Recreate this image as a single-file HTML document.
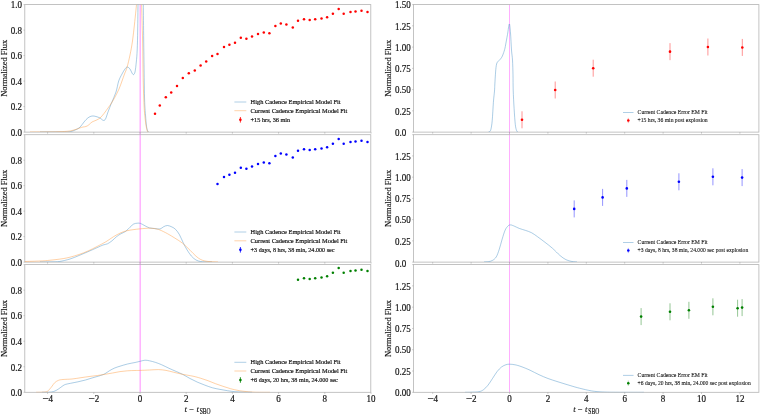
<!DOCTYPE html>
<html><head><meta charset="utf-8"><title>Normalized Flux</title>
<style>html,body{margin:0;padding:0;background:#fff}body{width:760px;height:414px;overflow:hidden}</style></head>
<body>
<svg width="760" height="414" viewBox="0 0 760 414" style="display:block;will-change:transform;opacity:0.999;filter:blur(0.35px);font-family:'Liberation Serif',serif">
<rect width="760" height="414" fill="#fff"/>
<clipPath id="cl0"><rect x="24.80" y="4.60" width="346.00" height="127.50"/></clipPath>
<clipPath id="cr0"><rect x="413.40" y="4.60" width="345.50" height="127.50"/></clipPath>
<clipPath id="cl1"><rect x="24.80" y="134.70" width="346.00" height="127.40"/></clipPath>
<clipPath id="cr1"><rect x="413.40" y="134.70" width="345.50" height="127.40"/></clipPath>
<clipPath id="cl2"><rect x="24.80" y="264.60" width="346.00" height="127.70"/></clipPath>
<clipPath id="cr2"><rect x="413.40" y="264.60" width="345.50" height="127.70"/></clipPath>
<line x1="140.15" x2="140.15" y1="4.5" y2="392.3" stroke="#ff8cff" stroke-width="1.0"/>
<line x1="509.5" x2="509.5" y1="4.5" y2="392.3" stroke="#ff8cff" stroke-width="0.7"/>
<circle cx="155.00" cy="113.80" r="1.25" fill="#ff0000"/>
<circle cx="159.80" cy="105.40" r="1.25" fill="#ff0000"/>
<circle cx="165.80" cy="97.20" r="1.25" fill="#ff0000"/>
<circle cx="171.20" cy="92.60" r="1.25" fill="#ff0000"/>
<circle cx="177.00" cy="86.00" r="1.25" fill="#ff0000"/>
<circle cx="182.80" cy="78.00" r="1.25" fill="#ff0000"/>
<circle cx="188.80" cy="73.20" r="1.25" fill="#ff0000"/>
<circle cx="194.80" cy="70.40" r="1.25" fill="#ff0000"/>
<circle cx="200.60" cy="65.60" r="1.25" fill="#ff0000"/>
<circle cx="206.20" cy="61.60" r="1.25" fill="#ff0000"/>
<circle cx="212.10" cy="56.00" r="1.25" fill="#ff0000"/>
<circle cx="217.50" cy="54.00" r="1.25" fill="#ff0000"/>
<circle cx="224.00" cy="47.00" r="1.25" fill="#ff0000"/>
<circle cx="229.40" cy="44.80" r="1.25" fill="#ff0000"/>
<circle cx="235.00" cy="42.80" r="1.25" fill="#ff0000"/>
<circle cx="240.80" cy="37.80" r="1.25" fill="#ff0000"/>
<circle cx="246.40" cy="38.80" r="1.25" fill="#ff0000"/>
<circle cx="252.00" cy="36.60" r="1.25" fill="#ff0000"/>
<circle cx="258.00" cy="34.00" r="1.25" fill="#ff0000"/>
<circle cx="263.80" cy="32.40" r="1.25" fill="#ff0000"/>
<circle cx="269.40" cy="33.20" r="1.25" fill="#ff0000"/>
<circle cx="275.40" cy="26.00" r="1.25" fill="#ff0000"/>
<circle cx="280.80" cy="23.60" r="1.25" fill="#ff0000"/>
<circle cx="286.40" cy="24.60" r="1.25" fill="#ff0000"/>
<circle cx="292.80" cy="27.40" r="1.25" fill="#ff0000"/>
<circle cx="298.00" cy="20.80" r="1.25" fill="#ff0000"/>
<circle cx="304.00" cy="19.20" r="1.25" fill="#ff0000"/>
<circle cx="309.70" cy="20.00" r="1.25" fill="#ff0000"/>
<circle cx="315.20" cy="19.30" r="1.25" fill="#ff0000"/>
<circle cx="321.50" cy="18.40" r="1.25" fill="#ff0000"/>
<circle cx="327.10" cy="17.20" r="1.25" fill="#ff0000"/>
<circle cx="332.90" cy="13.70" r="1.25" fill="#ff0000"/>
<circle cx="338.70" cy="9.10" r="1.25" fill="#ff0000"/>
<circle cx="343.70" cy="13.80" r="1.25" fill="#ff0000"/>
<circle cx="350.50" cy="12.10" r="1.25" fill="#ff0000"/>
<circle cx="355.50" cy="11.50" r="1.25" fill="#ff0000"/>
<circle cx="361.50" cy="10.70" r="1.25" fill="#ff0000"/>
<circle cx="367.50" cy="11.90" r="1.25" fill="#ff0000"/>
<circle cx="217.50" cy="184.00" r="1.25" fill="#0000ff"/>
<circle cx="224.00" cy="177.00" r="1.25" fill="#0000ff"/>
<circle cx="229.40" cy="174.80" r="1.25" fill="#0000ff"/>
<circle cx="235.00" cy="172.80" r="1.25" fill="#0000ff"/>
<circle cx="240.80" cy="167.80" r="1.25" fill="#0000ff"/>
<circle cx="246.40" cy="168.80" r="1.25" fill="#0000ff"/>
<circle cx="252.00" cy="166.60" r="1.25" fill="#0000ff"/>
<circle cx="258.00" cy="164.00" r="1.25" fill="#0000ff"/>
<circle cx="263.80" cy="162.40" r="1.25" fill="#0000ff"/>
<circle cx="269.40" cy="163.20" r="1.25" fill="#0000ff"/>
<circle cx="275.40" cy="156.00" r="1.25" fill="#0000ff"/>
<circle cx="280.80" cy="153.60" r="1.25" fill="#0000ff"/>
<circle cx="286.40" cy="154.60" r="1.25" fill="#0000ff"/>
<circle cx="292.80" cy="157.40" r="1.25" fill="#0000ff"/>
<circle cx="298.00" cy="150.80" r="1.25" fill="#0000ff"/>
<circle cx="304.00" cy="149.20" r="1.25" fill="#0000ff"/>
<circle cx="309.70" cy="150.00" r="1.25" fill="#0000ff"/>
<circle cx="315.20" cy="149.30" r="1.25" fill="#0000ff"/>
<circle cx="321.50" cy="148.40" r="1.25" fill="#0000ff"/>
<circle cx="327.10" cy="147.20" r="1.25" fill="#0000ff"/>
<circle cx="332.90" cy="143.70" r="1.25" fill="#0000ff"/>
<circle cx="338.70" cy="139.10" r="1.25" fill="#0000ff"/>
<circle cx="343.70" cy="143.80" r="1.25" fill="#0000ff"/>
<circle cx="350.50" cy="142.10" r="1.25" fill="#0000ff"/>
<circle cx="355.50" cy="141.50" r="1.25" fill="#0000ff"/>
<circle cx="361.50" cy="140.70" r="1.25" fill="#0000ff"/>
<circle cx="367.50" cy="141.90" r="1.25" fill="#0000ff"/>
<circle cx="298.00" cy="279.80" r="1.25" fill="#008000"/>
<circle cx="304.00" cy="278.20" r="1.25" fill="#008000"/>
<circle cx="309.70" cy="279.00" r="1.25" fill="#008000"/>
<circle cx="315.20" cy="278.30" r="1.25" fill="#008000"/>
<circle cx="321.50" cy="277.40" r="1.25" fill="#008000"/>
<circle cx="327.10" cy="276.20" r="1.25" fill="#008000"/>
<circle cx="332.90" cy="272.70" r="1.25" fill="#008000"/>
<circle cx="338.70" cy="268.10" r="1.25" fill="#008000"/>
<circle cx="343.70" cy="272.80" r="1.25" fill="#008000"/>
<circle cx="350.50" cy="271.10" r="1.25" fill="#008000"/>
<circle cx="355.50" cy="270.50" r="1.25" fill="#008000"/>
<circle cx="361.50" cy="269.70" r="1.25" fill="#008000"/>
<circle cx="367.50" cy="270.90" r="1.25" fill="#008000"/>
<line x1="522.00" x2="522.00" y1="111.30" y2="128.30" stroke="#ff7878" stroke-width="0.8"/>
<circle cx="522.00" cy="119.80" r="1.3" fill="#ff0000"/>
<line x1="555.20" x2="555.20" y1="81.50" y2="98.50" stroke="#ff7878" stroke-width="0.8"/>
<circle cx="555.20" cy="90.00" r="1.3" fill="#ff0000"/>
<line x1="593.20" x2="593.20" y1="59.70" y2="76.70" stroke="#ff7878" stroke-width="0.8"/>
<circle cx="593.20" cy="68.20" r="1.3" fill="#ff0000"/>
<line x1="670.00" x2="670.00" y1="43.15" y2="60.15" stroke="#ff7878" stroke-width="0.8"/>
<circle cx="670.00" cy="51.65" r="1.3" fill="#ff0000"/>
<line x1="707.90" x2="707.90" y1="38.50" y2="55.50" stroke="#ff7878" stroke-width="0.8"/>
<circle cx="707.90" cy="47.00" r="1.3" fill="#ff0000"/>
<line x1="742.30" x2="742.30" y1="38.95" y2="55.95" stroke="#ff7878" stroke-width="0.8"/>
<circle cx="742.30" cy="47.45" r="1.3" fill="#ff0000"/>
<line x1="574.20" x2="574.20" y1="200.40" y2="217.40" stroke="#7878ff" stroke-width="0.8"/>
<circle cx="574.20" cy="208.90" r="1.3" fill="#0000ff"/>
<line x1="602.60" x2="602.60" y1="188.90" y2="205.90" stroke="#7878ff" stroke-width="0.8"/>
<circle cx="602.60" cy="197.40" r="1.3" fill="#0000ff"/>
<line x1="626.80" x2="626.80" y1="179.90" y2="196.90" stroke="#7878ff" stroke-width="0.8"/>
<circle cx="626.80" cy="188.40" r="1.3" fill="#0000ff"/>
<line x1="678.90" x2="678.90" y1="173.30" y2="190.30" stroke="#7878ff" stroke-width="0.8"/>
<circle cx="678.90" cy="181.80" r="1.3" fill="#0000ff"/>
<line x1="712.90" x2="712.90" y1="168.30" y2="185.30" stroke="#7878ff" stroke-width="0.8"/>
<circle cx="712.90" cy="176.80" r="1.3" fill="#0000ff"/>
<line x1="742.10" x2="742.10" y1="169.10" y2="186.10" stroke="#7878ff" stroke-width="0.8"/>
<circle cx="742.10" cy="177.60" r="1.3" fill="#0000ff"/>
<line x1="641.10" x2="641.10" y1="308.10" y2="325.10" stroke="#78b878" stroke-width="0.8"/>
<circle cx="641.10" cy="316.60" r="1.3" fill="#008000"/>
<line x1="670.00" x2="670.00" y1="303.30" y2="320.30" stroke="#78b878" stroke-width="0.8"/>
<circle cx="670.00" cy="311.80" r="1.3" fill="#008000"/>
<line x1="688.90" x2="688.90" y1="301.80" y2="318.80" stroke="#78b878" stroke-width="0.8"/>
<circle cx="688.90" cy="310.30" r="1.3" fill="#008000"/>
<line x1="712.90" x2="712.90" y1="298.30" y2="315.30" stroke="#78b878" stroke-width="0.8"/>
<circle cx="712.90" cy="306.80" r="1.3" fill="#008000"/>
<line x1="737.60" x2="737.60" y1="299.70" y2="316.70" stroke="#78b878" stroke-width="0.8"/>
<circle cx="737.60" cy="308.20" r="1.3" fill="#008000"/>
<line x1="742.10" x2="742.10" y1="299.10" y2="316.10" stroke="#78b878" stroke-width="0.8"/>
<circle cx="742.10" cy="307.60" r="1.3" fill="#008000"/>
<rect x="24.80" y="4.60" width="346.00" height="127.50" fill="none" stroke="#b4b4b4" stroke-width="0.8"/>
<line x1="47.60" x2="47.60" y1="132.10" y2="133.70" stroke="#9a9a9a" stroke-width="0.5"/>
<line x1="93.80" x2="93.80" y1="132.10" y2="133.70" stroke="#9a9a9a" stroke-width="0.5"/>
<line x1="140.00" x2="140.00" y1="132.10" y2="133.70" stroke="#9a9a9a" stroke-width="0.5"/>
<line x1="186.20" x2="186.20" y1="132.10" y2="133.70" stroke="#9a9a9a" stroke-width="0.5"/>
<line x1="232.40" x2="232.40" y1="132.10" y2="133.70" stroke="#9a9a9a" stroke-width="0.5"/>
<line x1="278.60" x2="278.60" y1="132.10" y2="133.70" stroke="#9a9a9a" stroke-width="0.5"/>
<line x1="324.80" x2="324.80" y1="132.10" y2="133.70" stroke="#9a9a9a" stroke-width="0.5"/>
<line x1="371.00" x2="371.00" y1="132.10" y2="133.70" stroke="#9a9a9a" stroke-width="0.5"/>
<rect x="413.40" y="4.60" width="345.50" height="127.50" fill="none" stroke="#b4b4b4" stroke-width="0.8"/>
<line x1="432.70" x2="432.70" y1="132.10" y2="133.70" stroke="#9a9a9a" stroke-width="0.5"/>
<line x1="471.10" x2="471.10" y1="132.10" y2="133.70" stroke="#9a9a9a" stroke-width="0.5"/>
<line x1="509.50" x2="509.50" y1="132.10" y2="133.70" stroke="#9a9a9a" stroke-width="0.5"/>
<line x1="547.90" x2="547.90" y1="132.10" y2="133.70" stroke="#9a9a9a" stroke-width="0.5"/>
<line x1="586.30" x2="586.30" y1="132.10" y2="133.70" stroke="#9a9a9a" stroke-width="0.5"/>
<line x1="624.70" x2="624.70" y1="132.10" y2="133.70" stroke="#9a9a9a" stroke-width="0.5"/>
<line x1="663.10" x2="663.10" y1="132.10" y2="133.70" stroke="#9a9a9a" stroke-width="0.5"/>
<line x1="701.50" x2="701.50" y1="132.10" y2="133.70" stroke="#9a9a9a" stroke-width="0.5"/>
<line x1="739.90" x2="739.90" y1="132.10" y2="133.70" stroke="#9a9a9a" stroke-width="0.5"/>
<line x1="23.50" x2="24.80" y1="132.10" y2="132.10" stroke="#9a9a9a" stroke-width="0.5"/>
<line x1="23.50" x2="24.80" y1="106.60" y2="106.60" stroke="#9a9a9a" stroke-width="0.5"/>
<line x1="23.50" x2="24.80" y1="81.10" y2="81.10" stroke="#9a9a9a" stroke-width="0.5"/>
<line x1="23.50" x2="24.80" y1="55.60" y2="55.60" stroke="#9a9a9a" stroke-width="0.5"/>
<line x1="23.50" x2="24.80" y1="30.10" y2="30.10" stroke="#9a9a9a" stroke-width="0.5"/>
<line x1="23.50" x2="24.80" y1="4.60" y2="4.60" stroke="#9a9a9a" stroke-width="0.5"/>
<line x1="412.10" x2="413.40" y1="132.10" y2="132.10" stroke="#9a9a9a" stroke-width="0.5"/>
<line x1="412.10" x2="413.40" y1="110.85" y2="110.85" stroke="#9a9a9a" stroke-width="0.5"/>
<line x1="412.10" x2="413.40" y1="89.60" y2="89.60" stroke="#9a9a9a" stroke-width="0.5"/>
<line x1="412.10" x2="413.40" y1="68.35" y2="68.35" stroke="#9a9a9a" stroke-width="0.5"/>
<line x1="412.10" x2="413.40" y1="47.10" y2="47.10" stroke="#9a9a9a" stroke-width="0.5"/>
<line x1="412.10" x2="413.40" y1="25.85" y2="25.85" stroke="#9a9a9a" stroke-width="0.5"/>
<line x1="412.10" x2="413.40" y1="4.60" y2="4.60" stroke="#9a9a9a" stroke-width="0.5"/>
<rect x="24.80" y="134.70" width="346.00" height="127.40" fill="none" stroke="#b4b4b4" stroke-width="0.8"/>
<line x1="47.60" x2="47.60" y1="262.10" y2="263.70" stroke="#9a9a9a" stroke-width="0.5"/>
<line x1="93.80" x2="93.80" y1="262.10" y2="263.70" stroke="#9a9a9a" stroke-width="0.5"/>
<line x1="140.00" x2="140.00" y1="262.10" y2="263.70" stroke="#9a9a9a" stroke-width="0.5"/>
<line x1="186.20" x2="186.20" y1="262.10" y2="263.70" stroke="#9a9a9a" stroke-width="0.5"/>
<line x1="232.40" x2="232.40" y1="262.10" y2="263.70" stroke="#9a9a9a" stroke-width="0.5"/>
<line x1="278.60" x2="278.60" y1="262.10" y2="263.70" stroke="#9a9a9a" stroke-width="0.5"/>
<line x1="324.80" x2="324.80" y1="262.10" y2="263.70" stroke="#9a9a9a" stroke-width="0.5"/>
<line x1="371.00" x2="371.00" y1="262.10" y2="263.70" stroke="#9a9a9a" stroke-width="0.5"/>
<rect x="413.40" y="134.70" width="345.50" height="127.40" fill="none" stroke="#b4b4b4" stroke-width="0.8"/>
<line x1="432.70" x2="432.70" y1="262.10" y2="263.70" stroke="#9a9a9a" stroke-width="0.5"/>
<line x1="471.10" x2="471.10" y1="262.10" y2="263.70" stroke="#9a9a9a" stroke-width="0.5"/>
<line x1="509.50" x2="509.50" y1="262.10" y2="263.70" stroke="#9a9a9a" stroke-width="0.5"/>
<line x1="547.90" x2="547.90" y1="262.10" y2="263.70" stroke="#9a9a9a" stroke-width="0.5"/>
<line x1="586.30" x2="586.30" y1="262.10" y2="263.70" stroke="#9a9a9a" stroke-width="0.5"/>
<line x1="624.70" x2="624.70" y1="262.10" y2="263.70" stroke="#9a9a9a" stroke-width="0.5"/>
<line x1="663.10" x2="663.10" y1="262.10" y2="263.70" stroke="#9a9a9a" stroke-width="0.5"/>
<line x1="701.50" x2="701.50" y1="262.10" y2="263.70" stroke="#9a9a9a" stroke-width="0.5"/>
<line x1="739.90" x2="739.90" y1="262.10" y2="263.70" stroke="#9a9a9a" stroke-width="0.5"/>
<line x1="23.50" x2="24.80" y1="262.10" y2="262.10" stroke="#9a9a9a" stroke-width="0.5"/>
<line x1="23.50" x2="24.80" y1="236.62" y2="236.62" stroke="#9a9a9a" stroke-width="0.5"/>
<line x1="23.50" x2="24.80" y1="211.14" y2="211.14" stroke="#9a9a9a" stroke-width="0.5"/>
<line x1="23.50" x2="24.80" y1="185.66" y2="185.66" stroke="#9a9a9a" stroke-width="0.5"/>
<line x1="23.50" x2="24.80" y1="160.18" y2="160.18" stroke="#9a9a9a" stroke-width="0.5"/>
<line x1="23.50" x2="24.80" y1="134.70" y2="134.70" stroke="#9a9a9a" stroke-width="0.5"/>
<line x1="412.10" x2="413.40" y1="262.10" y2="262.10" stroke="#9a9a9a" stroke-width="0.5"/>
<line x1="412.10" x2="413.40" y1="240.87" y2="240.87" stroke="#9a9a9a" stroke-width="0.5"/>
<line x1="412.10" x2="413.40" y1="219.63" y2="219.63" stroke="#9a9a9a" stroke-width="0.5"/>
<line x1="412.10" x2="413.40" y1="198.40" y2="198.40" stroke="#9a9a9a" stroke-width="0.5"/>
<line x1="412.10" x2="413.40" y1="177.17" y2="177.17" stroke="#9a9a9a" stroke-width="0.5"/>
<line x1="412.10" x2="413.40" y1="155.93" y2="155.93" stroke="#9a9a9a" stroke-width="0.5"/>
<line x1="412.10" x2="413.40" y1="134.70" y2="134.70" stroke="#9a9a9a" stroke-width="0.5"/>
<rect x="24.80" y="264.60" width="346.00" height="127.70" fill="none" stroke="#b4b4b4" stroke-width="0.8"/>
<line x1="47.60" x2="47.60" y1="392.30" y2="393.90" stroke="#9a9a9a" stroke-width="0.5"/>
<line x1="93.80" x2="93.80" y1="392.30" y2="393.90" stroke="#9a9a9a" stroke-width="0.5"/>
<line x1="140.00" x2="140.00" y1="392.30" y2="393.90" stroke="#9a9a9a" stroke-width="0.5"/>
<line x1="186.20" x2="186.20" y1="392.30" y2="393.90" stroke="#9a9a9a" stroke-width="0.5"/>
<line x1="232.40" x2="232.40" y1="392.30" y2="393.90" stroke="#9a9a9a" stroke-width="0.5"/>
<line x1="278.60" x2="278.60" y1="392.30" y2="393.90" stroke="#9a9a9a" stroke-width="0.5"/>
<line x1="324.80" x2="324.80" y1="392.30" y2="393.90" stroke="#9a9a9a" stroke-width="0.5"/>
<line x1="371.00" x2="371.00" y1="392.30" y2="393.90" stroke="#9a9a9a" stroke-width="0.5"/>
<rect x="413.40" y="264.60" width="345.50" height="127.70" fill="none" stroke="#b4b4b4" stroke-width="0.8"/>
<line x1="432.70" x2="432.70" y1="392.30" y2="393.90" stroke="#9a9a9a" stroke-width="0.5"/>
<line x1="471.10" x2="471.10" y1="392.30" y2="393.90" stroke="#9a9a9a" stroke-width="0.5"/>
<line x1="509.50" x2="509.50" y1="392.30" y2="393.90" stroke="#9a9a9a" stroke-width="0.5"/>
<line x1="547.90" x2="547.90" y1="392.30" y2="393.90" stroke="#9a9a9a" stroke-width="0.5"/>
<line x1="586.30" x2="586.30" y1="392.30" y2="393.90" stroke="#9a9a9a" stroke-width="0.5"/>
<line x1="624.70" x2="624.70" y1="392.30" y2="393.90" stroke="#9a9a9a" stroke-width="0.5"/>
<line x1="663.10" x2="663.10" y1="392.30" y2="393.90" stroke="#9a9a9a" stroke-width="0.5"/>
<line x1="701.50" x2="701.50" y1="392.30" y2="393.90" stroke="#9a9a9a" stroke-width="0.5"/>
<line x1="739.90" x2="739.90" y1="392.30" y2="393.90" stroke="#9a9a9a" stroke-width="0.5"/>
<line x1="23.50" x2="24.80" y1="392.30" y2="392.30" stroke="#9a9a9a" stroke-width="0.5"/>
<line x1="23.50" x2="24.80" y1="366.76" y2="366.76" stroke="#9a9a9a" stroke-width="0.5"/>
<line x1="23.50" x2="24.80" y1="341.22" y2="341.22" stroke="#9a9a9a" stroke-width="0.5"/>
<line x1="23.50" x2="24.80" y1="315.68" y2="315.68" stroke="#9a9a9a" stroke-width="0.5"/>
<line x1="23.50" x2="24.80" y1="290.14" y2="290.14" stroke="#9a9a9a" stroke-width="0.5"/>
<line x1="23.50" x2="24.80" y1="264.60" y2="264.60" stroke="#9a9a9a" stroke-width="0.5"/>
<line x1="412.10" x2="413.40" y1="392.30" y2="392.30" stroke="#9a9a9a" stroke-width="0.5"/>
<line x1="412.10" x2="413.40" y1="371.02" y2="371.02" stroke="#9a9a9a" stroke-width="0.5"/>
<line x1="412.10" x2="413.40" y1="349.73" y2="349.73" stroke="#9a9a9a" stroke-width="0.5"/>
<line x1="412.10" x2="413.40" y1="328.45" y2="328.45" stroke="#9a9a9a" stroke-width="0.5"/>
<line x1="412.10" x2="413.40" y1="307.17" y2="307.17" stroke="#9a9a9a" stroke-width="0.5"/>
<line x1="412.10" x2="413.40" y1="285.88" y2="285.88" stroke="#9a9a9a" stroke-width="0.5"/>
<line x1="412.10" x2="413.40" y1="264.60" y2="264.60" stroke="#9a9a9a" stroke-width="0.5"/>
<path d="M40.00 132.00C43.33 132.00 55.33 132.02 60.00 132.00C64.67 131.98 66.00 132.03 68.00 131.90C70.00 131.77 70.67 131.58 72.00 131.20C73.33 130.82 74.67 130.27 76.00 129.60C77.33 128.93 78.67 128.47 80.00 127.20C81.33 125.93 82.67 123.57 84.00 122.00C85.33 120.43 86.67 118.80 88.00 117.80C89.33 116.80 90.67 116.22 92.00 116.00C93.33 115.78 94.67 116.17 96.00 116.50C97.33 116.83 98.78 117.35 100.00 118.00C101.22 118.65 102.38 120.23 103.30 120.40C104.22 120.57 104.72 120.40 105.50 119.00C106.28 117.60 107.00 114.67 108.00 112.00C109.00 109.33 110.17 106.33 111.50 103.00C112.83 99.67 114.80 95.67 116.00 92.00C117.20 88.33 117.70 84.00 118.70 81.00C119.70 78.00 120.95 76.00 122.00 74.00C123.05 72.00 124.12 70.17 125.00 69.00C125.88 67.83 126.47 67.00 127.30 67.00C128.13 67.00 129.22 68.00 130.00 69.00C130.78 70.00 131.42 72.07 132.00 73.00C132.58 73.93 133.00 74.77 133.50 74.60C134.00 74.43 134.53 74.10 135.00 72.00C135.47 69.90 135.93 65.67 136.30 62.00C136.67 58.33 136.97 55.33 137.20 50.00C137.43 44.67 137.57 37.58 137.70 30.00C137.83 22.42 137.95 8.75 138.00 4.50" fill="none" stroke="#4b92c7" stroke-opacity="0.55" stroke-width="0.85" stroke-linejoin="round" clip-path="url(#cl0)"/>
<path d="M143.30 4.50C143.37 10.42 143.57 29.08 143.70 40.00C143.83 50.92 143.95 60.00 144.10 70.00C144.25 80.00 144.37 92.50 144.60 100.00C144.83 107.50 145.18 110.67 145.50 115.00C145.82 119.33 146.17 123.42 146.50 126.00C146.83 128.58 147.17 129.50 147.50 130.50C147.83 131.50 148.33 131.75 148.50 132.00" fill="none" stroke="#4b92c7" stroke-opacity="0.55" stroke-width="0.85" stroke-linejoin="round" clip-path="url(#cl0)"/>
<path d="M30.00 132.00C33.33 131.98 45.00 131.95 50.00 131.90C55.00 131.85 57.00 131.82 60.00 131.70C63.00 131.58 66.00 131.40 68.00 131.20C70.00 131.00 70.67 130.80 72.00 130.50C73.33 130.20 74.67 129.83 76.00 129.40C77.33 128.97 78.83 128.30 80.00 127.90C81.17 127.50 82.00 127.23 83.00 127.00C84.00 126.77 85.00 126.88 86.00 126.50C87.00 126.12 88.00 125.45 89.00 124.70C90.00 123.95 90.83 122.73 92.00 122.00C93.17 121.27 94.67 120.97 96.00 120.30C97.33 119.63 98.67 119.13 100.00 118.00C101.33 116.87 102.67 115.17 104.00 113.50C105.33 111.83 106.75 109.75 108.00 108.00C109.25 106.25 110.33 104.83 111.50 103.00C112.67 101.17 113.75 99.33 115.00 97.00C116.25 94.67 117.83 91.67 119.00 89.00C120.17 86.33 121.08 83.50 122.00 81.00C122.92 78.50 123.67 76.25 124.50 74.00C125.33 71.75 126.08 70.67 127.00 67.50C127.92 64.33 129.08 59.42 130.00 55.00C130.92 50.58 131.75 46.17 132.50 41.00C133.25 35.83 133.83 30.08 134.50 24.00C135.17 17.92 136.17 7.75 136.50 4.50" fill="none" stroke="#ff9b40" stroke-opacity="0.55" stroke-width="0.85" stroke-linejoin="round" clip-path="url(#cl0)"/>
<path d="M141.60 4.50C141.77 10.58 142.33 28.42 142.60 41.00C142.87 53.58 142.93 68.83 143.20 80.00C143.47 91.17 143.85 101.33 144.20 108.00C144.55 114.67 144.95 116.83 145.30 120.00C145.65 123.17 145.97 125.17 146.30 127.00C146.63 128.83 146.97 130.17 147.30 131.00C147.63 131.83 148.13 131.83 148.30 132.00" fill="none" stroke="#ff9b40" stroke-opacity="0.55" stroke-width="0.85" stroke-linejoin="round" clip-path="url(#cl0)"/>
<path d="M40.00 262.00C42.00 261.98 48.75 261.98 52.00 261.90C55.25 261.82 56.50 261.98 59.50 261.50C62.50 261.02 66.75 260.00 70.00 259.00C73.25 258.00 76.00 256.72 79.00 255.50C82.00 254.28 85.00 253.00 88.00 251.70C91.00 250.40 94.50 248.82 97.00 247.70C99.50 246.58 101.25 245.65 103.00 245.00C104.75 244.35 106.00 244.50 107.50 243.80C109.00 243.10 110.50 241.98 112.00 240.80C113.50 239.62 115.00 237.88 116.50 236.70C118.00 235.52 119.50 234.57 121.00 233.70C122.50 232.83 124.00 232.58 125.50 231.50C127.00 230.42 128.63 228.45 130.00 227.20C131.37 225.95 132.45 224.67 133.70 224.00C134.95 223.33 136.37 223.30 137.50 223.20C138.63 223.10 139.25 222.97 140.50 223.40C141.75 223.83 143.50 225.05 145.00 225.80C146.50 226.55 147.88 227.45 149.50 227.90C151.12 228.35 152.95 228.32 154.70 228.50C156.45 228.68 158.50 229.30 160.00 229.00C161.50 228.70 162.45 227.28 163.70 226.70C164.95 226.12 166.12 225.45 167.50 225.50C168.88 225.55 170.63 226.33 172.00 227.00C173.37 227.67 174.45 228.20 175.70 229.50C176.95 230.80 178.25 232.60 179.50 234.80C180.75 237.00 181.95 240.20 183.20 242.70C184.45 245.20 185.62 247.55 187.00 249.80C188.38 252.05 190.00 254.50 191.50 256.20C193.00 257.90 194.50 259.12 196.00 260.00C197.50 260.88 199.00 261.18 200.50 261.50C202.00 261.82 203.08 261.82 205.00 261.90C206.92 261.98 210.83 261.98 212.00 262.00" fill="none" stroke="#4b92c7" stroke-opacity="0.55" stroke-width="0.85" stroke-linejoin="round" clip-path="url(#cl1)"/>
<path d="M24.80 261.50C27.33 261.42 36.23 261.17 40.00 261.00C43.77 260.83 44.90 260.72 47.40 260.50C49.90 260.28 52.37 260.02 55.00 259.70C57.63 259.38 60.70 259.02 63.20 258.60C65.70 258.18 67.37 257.88 70.00 257.20C72.63 256.52 76.00 255.53 79.00 254.50C82.00 253.47 85.00 252.33 88.00 251.00C91.00 249.67 94.00 248.05 97.00 246.50C100.00 244.95 103.25 243.33 106.00 241.70C108.75 240.07 111.00 238.20 113.50 236.70C116.00 235.20 118.75 233.70 121.00 232.70C123.25 231.70 125.00 231.20 127.00 230.70C129.00 230.20 130.75 230.02 133.00 229.70C135.25 229.38 137.75 229.05 140.50 228.80C143.25 228.55 147.00 228.20 149.50 228.20C152.00 228.20 153.75 228.50 155.50 228.80C157.25 229.10 158.00 229.18 160.00 230.00C162.00 230.82 165.00 232.33 167.50 233.70C170.00 235.07 172.50 236.62 175.00 238.20C177.50 239.78 180.00 241.20 182.50 243.20C185.00 245.20 187.75 248.03 190.00 250.20C192.25 252.37 194.25 254.67 196.00 256.20C197.75 257.73 199.00 258.60 200.50 259.40C202.00 260.20 203.25 260.62 205.00 261.00C206.75 261.38 208.83 261.53 211.00 261.70C213.17 261.87 216.83 261.95 218.00 262.00" fill="none" stroke="#ff9b40" stroke-opacity="0.55" stroke-width="0.85" stroke-linejoin="round" clip-path="url(#cl1)"/>
<path d="M42.00 392.30C42.83 392.30 45.40 392.35 47.00 392.30C48.60 392.25 50.28 392.22 51.60 392.00C52.92 391.78 53.80 391.47 54.90 391.00C56.00 390.53 57.22 389.82 58.20 389.20C59.18 388.58 60.00 387.88 60.80 387.30C61.60 386.72 62.22 386.18 63.00 385.70C63.78 385.22 64.25 384.80 65.50 384.40C66.75 384.00 68.42 383.73 70.50 383.30C72.58 382.87 75.50 382.35 78.00 381.80C80.50 381.25 83.00 380.68 85.50 380.00C88.00 379.32 90.50 378.45 93.00 377.70C95.50 376.95 98.50 376.17 100.50 375.50C102.50 374.83 103.50 374.50 105.00 373.70C106.50 372.90 107.88 371.65 109.50 370.70C111.12 369.75 112.95 368.75 114.70 368.00C116.45 367.25 117.87 366.87 120.00 366.20C122.13 365.53 125.00 364.62 127.50 364.00C130.00 363.38 132.83 362.97 135.00 362.50C137.17 362.03 138.83 361.58 140.50 361.20C142.17 360.82 143.50 360.27 145.00 360.20C146.50 360.13 147.75 360.43 149.50 360.80C151.25 361.17 153.50 361.75 155.50 362.40C157.50 363.05 159.25 363.72 161.50 364.70C163.75 365.68 166.50 367.15 169.00 368.30C171.50 369.45 174.25 370.60 176.50 371.60C178.75 372.60 180.25 373.15 182.50 374.30C184.75 375.45 187.50 377.18 190.00 378.50C192.50 379.82 195.00 381.08 197.50 382.20C200.00 383.32 202.50 384.27 205.00 385.20C207.50 386.13 210.00 387.10 212.50 387.80C215.00 388.50 217.50 388.92 220.00 389.40C222.50 389.88 225.00 390.32 227.50 390.70C230.00 391.08 232.25 391.47 235.00 391.70C237.75 391.93 241.17 392.00 244.00 392.10C246.83 392.20 250.67 392.27 252.00 392.30" fill="none" stroke="#4b92c7" stroke-opacity="0.55" stroke-width="0.85" stroke-linejoin="round" clip-path="url(#cl2)"/>
<path d="M36.00 392.30C36.95 392.28 39.98 392.28 41.70 392.20C43.42 392.12 45.20 392.07 46.30 391.80C47.40 391.53 47.63 391.17 48.30 390.60C48.97 390.03 49.65 389.17 50.30 388.40C50.95 387.63 51.47 386.95 52.20 386.00C52.93 385.05 53.65 383.65 54.70 382.70C55.75 381.75 57.12 380.83 58.50 380.30C59.88 379.77 60.75 379.72 63.00 379.50C65.25 379.28 69.00 379.30 72.00 379.00C75.00 378.70 78.00 378.13 81.00 377.70C84.00 377.27 87.25 376.77 90.00 376.40C92.75 376.03 95.00 375.85 97.50 375.50C100.00 375.15 102.50 374.72 105.00 374.30C107.50 373.88 110.00 373.45 112.50 373.00C115.00 372.55 117.50 371.97 120.00 371.60C122.50 371.23 125.00 370.98 127.50 370.80C130.00 370.62 132.83 370.57 135.00 370.50C137.17 370.43 138.08 370.48 140.50 370.40C142.92 370.32 146.50 370.13 149.50 370.00C152.50 369.87 155.75 369.53 158.50 369.60C161.25 369.67 163.50 369.97 166.00 370.40C168.50 370.83 170.75 371.55 173.50 372.20C176.25 372.85 179.25 373.63 182.50 374.30C185.75 374.97 190.00 375.55 193.00 376.20C196.00 376.85 198.00 377.45 200.50 378.20C203.00 378.95 205.50 379.78 208.00 380.70C210.50 381.62 213.00 382.77 215.50 383.70C218.00 384.63 220.50 385.47 223.00 386.30C225.50 387.13 228.00 388.02 230.50 388.70C233.00 389.38 235.75 389.97 238.00 390.40C240.25 390.83 241.25 391.00 244.00 391.30C246.75 391.60 250.17 392.03 254.50 392.20C258.83 392.37 267.42 392.28 270.00 392.30" fill="none" stroke="#ff9b40" stroke-opacity="0.55" stroke-width="0.85" stroke-linejoin="round" clip-path="url(#cl2)"/>
<path d="M488.50 132.00C488.67 131.97 489.10 132.23 489.50 131.80C489.90 131.37 490.45 131.23 490.90 129.40C491.35 127.57 491.78 125.32 492.20 120.80C492.62 116.28 493.02 107.27 493.40 102.30C493.78 97.33 494.27 93.88 494.50 91.00C494.73 88.12 494.68 87.17 494.80 85.00C494.92 82.83 495.07 80.17 495.20 78.00C495.33 75.83 495.47 73.75 495.60 72.00C495.73 70.25 495.83 68.83 496.00 67.50C496.17 66.17 496.35 64.92 496.60 64.00C496.85 63.08 497.10 62.58 497.50 62.00C497.90 61.42 498.50 61.00 499.00 60.50C499.50 60.00 500.03 59.55 500.50 59.00C500.97 58.45 501.42 57.87 501.80 57.20C502.18 56.53 502.48 55.78 502.80 55.00C503.12 54.22 503.42 53.33 503.70 52.50C503.98 51.67 504.23 51.00 504.50 50.00C504.77 49.00 504.80 49.08 505.30 46.50C505.80 43.92 506.83 38.25 507.50 34.50C508.17 30.75 508.80 24.25 509.30 24.00C509.80 23.75 510.13 28.67 510.50 33.00C510.87 37.33 511.17 45.50 511.50 50.00C511.83 54.50 512.25 55.83 512.50 60.00C512.75 64.17 512.88 70.00 513.00 75.00C513.12 80.00 513.02 84.42 513.20 90.00C513.38 95.58 513.75 102.75 514.10 108.50C514.45 114.25 514.88 120.82 515.30 124.50C515.72 128.18 516.18 129.35 516.60 130.60C517.02 131.85 517.60 131.77 517.80 132.00" fill="none" stroke="#4b92c7" stroke-opacity="0.55" stroke-width="0.85" stroke-linejoin="round" clip-path="url(#cr0)"/>
<path d="M484.00 262.00C484.78 261.93 487.28 261.87 488.70 261.60C490.12 261.33 491.25 261.17 492.50 260.40C493.75 259.63 495.08 258.82 496.20 257.00C497.32 255.18 498.20 252.50 499.20 249.50C500.20 246.50 501.20 242.25 502.20 239.00C503.20 235.75 504.20 232.20 505.20 230.00C506.20 227.80 507.32 226.65 508.20 225.80C509.08 224.95 509.62 224.90 510.50 224.90C511.38 224.90 512.00 225.20 513.50 225.80C515.00 226.40 517.50 227.73 519.50 228.50C521.50 229.27 523.50 229.70 525.50 230.40C527.50 231.10 529.50 231.65 531.50 232.70C533.50 233.75 535.25 235.10 537.50 236.70C539.75 238.30 542.50 240.37 545.00 242.30C547.50 244.23 550.00 246.10 552.50 248.30C555.00 250.50 557.75 253.60 560.00 255.50C562.25 257.40 564.00 258.70 566.00 259.70C568.00 260.70 570.17 261.12 572.00 261.50C573.83 261.88 576.17 261.92 577.00 262.00" fill="none" stroke="#4b92c7" stroke-opacity="0.55" stroke-width="0.85" stroke-linejoin="round" clip-path="url(#cr1)"/>
<path d="M465.00 392.30C466.08 392.28 469.17 392.30 471.50 392.20C473.83 392.10 477.00 392.12 479.00 391.70C481.00 391.28 482.00 390.78 483.50 389.70C485.00 388.62 486.50 387.07 488.00 385.20C489.50 383.33 491.00 380.75 492.50 378.50C494.00 376.25 495.50 373.62 497.00 371.70C498.50 369.78 500.00 368.17 501.50 367.00C503.00 365.83 504.63 365.17 506.00 364.70C507.37 364.23 508.20 364.18 509.70 364.20C511.20 364.22 513.12 364.42 515.00 364.80C516.88 365.18 518.50 365.60 521.00 366.50C523.50 367.40 527.00 368.83 530.00 370.20C533.00 371.57 536.00 373.32 539.00 374.70C542.00 376.08 545.00 377.37 548.00 378.50C551.00 379.63 554.00 380.53 557.00 381.50C560.00 382.47 563.00 383.38 566.00 384.30C569.00 385.22 572.00 386.17 575.00 387.00C578.00 387.83 581.50 388.70 584.00 389.30C586.50 389.90 588.00 390.23 590.00 390.60C592.00 390.97 593.50 391.25 596.00 391.50C598.50 391.75 601.00 391.97 605.00 392.10C609.00 392.23 613.50 392.27 620.00 392.30C626.50 392.33 640.00 392.30 644.00 392.30" fill="none" stroke="#4b92c7" stroke-opacity="0.55" stroke-width="0.85" stroke-linejoin="round" clip-path="url(#cr2)"/>
<text transform="translate(22.10 135.85) scale(0.910 1)" font-size="9.90" text-anchor="end" fill="#151515" stroke="#151515" stroke-width="0.20" >0.0</text>
<text transform="translate(22.10 110.35) scale(0.910 1)" font-size="9.90" text-anchor="end" fill="#151515" stroke="#151515" stroke-width="0.20" >0.2</text>
<text transform="translate(22.10 84.85) scale(0.910 1)" font-size="9.90" text-anchor="end" fill="#151515" stroke="#151515" stroke-width="0.20" >0.4</text>
<text transform="translate(22.10 59.35) scale(0.910 1)" font-size="9.90" text-anchor="end" fill="#151515" stroke="#151515" stroke-width="0.20" >0.6</text>
<text transform="translate(22.10 33.85) scale(0.910 1)" font-size="9.90" text-anchor="end" fill="#151515" stroke="#151515" stroke-width="0.20" >0.8</text>
<text transform="translate(22.10 8.35) scale(0.910 1)" font-size="9.90" text-anchor="end" fill="#151515" stroke="#151515" stroke-width="0.20" >1.0</text>
<text transform="translate(395.00 135.85) scale(0.910 1)" font-size="9.90" text-anchor="start" fill="#151515" stroke="#151515" stroke-width="0.20" >0.0</text>
<text transform="translate(410.80 114.60) scale(0.910 1)" font-size="9.90" text-anchor="end" fill="#151515" stroke="#151515" stroke-width="0.20" >0.25</text>
<text transform="translate(410.80 93.35) scale(0.910 1)" font-size="9.90" text-anchor="end" fill="#151515" stroke="#151515" stroke-width="0.20" >0.50</text>
<text transform="translate(410.80 72.10) scale(0.910 1)" font-size="9.90" text-anchor="end" fill="#151515" stroke="#151515" stroke-width="0.20" >0.75</text>
<text transform="translate(410.80 50.85) scale(0.910 1)" font-size="9.90" text-anchor="end" fill="#151515" stroke="#151515" stroke-width="0.20" >1.00</text>
<text transform="translate(410.80 29.60) scale(0.910 1)" font-size="9.90" text-anchor="end" fill="#151515" stroke="#151515" stroke-width="0.20" >1.25</text>
<text transform="translate(410.80 8.35) scale(0.910 1)" font-size="9.90" text-anchor="end" fill="#151515" stroke="#151515" stroke-width="0.20" >1.50</text>
<text transform="translate(22.10 265.85) scale(0.910 1)" font-size="9.90" text-anchor="end" fill="#151515" stroke="#151515" stroke-width="0.20" >0.0</text>
<text transform="translate(22.10 240.37) scale(0.910 1)" font-size="9.90" text-anchor="end" fill="#151515" stroke="#151515" stroke-width="0.20" >0.2</text>
<text transform="translate(22.10 214.89) scale(0.910 1)" font-size="9.90" text-anchor="end" fill="#151515" stroke="#151515" stroke-width="0.20" >0.4</text>
<text transform="translate(22.10 189.41) scale(0.910 1)" font-size="9.90" text-anchor="end" fill="#151515" stroke="#151515" stroke-width="0.20" >0.6</text>
<text transform="translate(22.10 163.93) scale(0.910 1)" font-size="9.90" text-anchor="end" fill="#151515" stroke="#151515" stroke-width="0.20" >0.8</text>
<text transform="translate(395.00 267.05) scale(0.910 1)" font-size="9.90" text-anchor="start" fill="#151515" stroke="#151515" stroke-width="0.20" >0.0</text>
<text transform="translate(410.80 244.62) scale(0.910 1)" font-size="9.90" text-anchor="end" fill="#151515" stroke="#151515" stroke-width="0.20" >0.25</text>
<text transform="translate(410.80 223.38) scale(0.910 1)" font-size="9.90" text-anchor="end" fill="#151515" stroke="#151515" stroke-width="0.20" >0.50</text>
<text transform="translate(410.80 202.15) scale(0.910 1)" font-size="9.90" text-anchor="end" fill="#151515" stroke="#151515" stroke-width="0.20" >0.75</text>
<text transform="translate(410.80 180.92) scale(0.910 1)" font-size="9.90" text-anchor="end" fill="#151515" stroke="#151515" stroke-width="0.20" >1.00</text>
<text transform="translate(410.80 159.68) scale(0.910 1)" font-size="9.90" text-anchor="end" fill="#151515" stroke="#151515" stroke-width="0.20" >1.25</text>
<text transform="translate(22.10 396.05) scale(0.910 1)" font-size="9.90" text-anchor="end" fill="#151515" stroke="#151515" stroke-width="0.20" >0.0</text>
<text transform="translate(22.10 370.51) scale(0.910 1)" font-size="9.90" text-anchor="end" fill="#151515" stroke="#151515" stroke-width="0.20" >0.2</text>
<text transform="translate(22.10 344.97) scale(0.910 1)" font-size="9.90" text-anchor="end" fill="#151515" stroke="#151515" stroke-width="0.20" >0.4</text>
<text transform="translate(22.10 319.43) scale(0.910 1)" font-size="9.90" text-anchor="end" fill="#151515" stroke="#151515" stroke-width="0.20" >0.6</text>
<text transform="translate(22.10 293.89) scale(0.910 1)" font-size="9.90" text-anchor="end" fill="#151515" stroke="#151515" stroke-width="0.20" >0.8</text>
<text transform="translate(410.80 396.05) scale(0.910 1)" font-size="9.90" text-anchor="end" fill="#151515" stroke="#151515" stroke-width="0.20" >0.00</text>
<text transform="translate(410.80 374.77) scale(0.910 1)" font-size="9.90" text-anchor="end" fill="#151515" stroke="#151515" stroke-width="0.20" >0.25</text>
<text transform="translate(410.80 353.48) scale(0.910 1)" font-size="9.90" text-anchor="end" fill="#151515" stroke="#151515" stroke-width="0.20" >0.50</text>
<text transform="translate(410.80 332.20) scale(0.910 1)" font-size="9.90" text-anchor="end" fill="#151515" stroke="#151515" stroke-width="0.20" >0.75</text>
<text transform="translate(410.80 310.92) scale(0.910 1)" font-size="9.90" text-anchor="end" fill="#151515" stroke="#151515" stroke-width="0.20" >1.00</text>
<text transform="translate(410.80 289.63) scale(0.910 1)" font-size="9.90" text-anchor="end" fill="#151515" stroke="#151515" stroke-width="0.20" >1.25</text>
<text transform="translate(47.60 402.30) scale(0.910 1)" font-size="9.90" text-anchor="middle" fill="#151515" stroke="#151515" stroke-width="0.20" ><tspan font-size="12.4" dy="0.4">−</tspan><tspan dy="-0.4">4</tspan></text>
<text transform="translate(93.80 402.30) scale(0.910 1)" font-size="9.90" text-anchor="middle" fill="#151515" stroke="#151515" stroke-width="0.20" ><tspan font-size="12.4" dy="0.4">−</tspan><tspan dy="-0.4">2</tspan></text>
<text transform="translate(140.00 402.30) scale(0.910 1)" font-size="9.90" text-anchor="middle" fill="#151515" stroke="#151515" stroke-width="0.20" >0</text>
<text transform="translate(186.20 402.30) scale(0.910 1)" font-size="9.90" text-anchor="middle" fill="#151515" stroke="#151515" stroke-width="0.20" >2</text>
<text transform="translate(232.40 402.30) scale(0.910 1)" font-size="9.90" text-anchor="middle" fill="#151515" stroke="#151515" stroke-width="0.20" >4</text>
<text transform="translate(278.60 402.30) scale(0.910 1)" font-size="9.90" text-anchor="middle" fill="#151515" stroke="#151515" stroke-width="0.20" >6</text>
<text transform="translate(324.80 402.30) scale(0.910 1)" font-size="9.90" text-anchor="middle" fill="#151515" stroke="#151515" stroke-width="0.20" >8</text>
<text transform="translate(371.00 402.30) scale(0.910 1)" font-size="9.90" text-anchor="middle" fill="#151515" stroke="#151515" stroke-width="0.20" >10</text>
<text transform="translate(432.70 402.30) scale(0.910 1)" font-size="9.90" text-anchor="middle" fill="#151515" stroke="#151515" stroke-width="0.20" ><tspan font-size="12.4" dy="0.4">−</tspan><tspan dy="-0.4">4</tspan></text>
<text transform="translate(471.10 402.30) scale(0.910 1)" font-size="9.90" text-anchor="middle" fill="#151515" stroke="#151515" stroke-width="0.20" ><tspan font-size="12.4" dy="0.4">−</tspan><tspan dy="-0.4">2</tspan></text>
<text transform="translate(509.50 402.30) scale(0.910 1)" font-size="9.90" text-anchor="middle" fill="#151515" stroke="#151515" stroke-width="0.20" >0</text>
<text transform="translate(547.90 402.30) scale(0.910 1)" font-size="9.90" text-anchor="middle" fill="#151515" stroke="#151515" stroke-width="0.20" >2</text>
<text transform="translate(586.30 402.30) scale(0.910 1)" font-size="9.90" text-anchor="middle" fill="#151515" stroke="#151515" stroke-width="0.20" >4</text>
<text transform="translate(624.70 402.30) scale(0.910 1)" font-size="9.90" text-anchor="middle" fill="#151515" stroke="#151515" stroke-width="0.20" >6</text>
<text transform="translate(663.10 402.30) scale(0.910 1)" font-size="9.90" text-anchor="middle" fill="#151515" stroke="#151515" stroke-width="0.20" >8</text>
<text transform="translate(701.50 402.30) scale(0.910 1)" font-size="9.90" text-anchor="middle" fill="#151515" stroke="#151515" stroke-width="0.20" >10</text>
<text transform="translate(739.90 402.30) scale(0.910 1)" font-size="9.90" text-anchor="middle" fill="#151515" stroke="#151515" stroke-width="0.20" >12</text>
<text x="184.60" y="412" font-size="8.6" font-style="italic" stroke="#151515" stroke-width="0.12" fill="#151515">t</text>
<line x1="189.40" x2="193.60" y1="409.5" y2="409.5" stroke="#151515" stroke-width="0.6"/>
<text x="196.40" y="412" font-size="8.6" font-style="italic" stroke="#151515" stroke-width="0.12" fill="#151515">t</text>
<text x="199.70" y="414" font-size="7.2" stroke="#151515" stroke-width="0.2" fill="#151515" textLength="10.9" lengthAdjust="spacingAndGlyphs">SBO</text>
<text x="573.20" y="412" font-size="8.6" font-style="italic" stroke="#151515" stroke-width="0.12" fill="#151515">t</text>
<line x1="578.00" x2="582.20" y1="409.5" y2="409.5" stroke="#151515" stroke-width="0.6"/>
<text x="585.00" y="412" font-size="8.6" font-style="italic" stroke="#151515" stroke-width="0.12" fill="#151515">t</text>
<text x="588.30" y="414" font-size="7.2" stroke="#151515" stroke-width="0.2" fill="#151515" textLength="10.9" lengthAdjust="spacingAndGlyphs">SBO</text>
<text transform="translate(7.30 68.35) rotate(-90)" font-size="8.4" text-anchor="middle" stroke="#151515" stroke-width="0.15" fill="#151515" textLength="57" lengthAdjust="spacingAndGlyphs">Normalized Flux</text>
<text transform="translate(391.10 68.35) rotate(-90)" font-size="8.4" text-anchor="middle" stroke="#151515" stroke-width="0.15" fill="#151515" textLength="57" lengthAdjust="spacingAndGlyphs">Normalized Flux</text>
<text transform="translate(7.30 198.40) rotate(-90)" font-size="8.4" text-anchor="middle" stroke="#151515" stroke-width="0.15" fill="#151515" textLength="57" lengthAdjust="spacingAndGlyphs">Normalized Flux</text>
<text transform="translate(391.10 198.40) rotate(-90)" font-size="8.4" text-anchor="middle" stroke="#151515" stroke-width="0.15" fill="#151515" textLength="57" lengthAdjust="spacingAndGlyphs">Normalized Flux</text>
<text transform="translate(7.30 328.45) rotate(-90)" font-size="8.4" text-anchor="middle" stroke="#151515" stroke-width="0.15" fill="#151515" textLength="57" lengthAdjust="spacingAndGlyphs">Normalized Flux</text>
<text transform="translate(391.10 328.45) rotate(-90)" font-size="8.4" text-anchor="middle" stroke="#151515" stroke-width="0.15" fill="#151515" textLength="57" lengthAdjust="spacingAndGlyphs">Normalized Flux</text>
<line x1="234.4" x2="246.3" y1="102.00" y2="102.00" stroke="#9cc3e0" stroke-width="0.8"/>
<line x1="234.4" x2="246.3" y1="110.70" y2="110.70" stroke="#ffc896" stroke-width="0.8"/>
<line x1="240.4" x2="240.4" y1="117.00" y2="122.60" stroke="#ff0000" stroke-width="0.8"/>
<circle cx="240.4" cy="119.80" r="1.3" fill="#ff0000"/>
<text transform="translate(250.60 104.15) scale(1.000 1)" font-size="6.80" text-anchor="start" fill="#151515" stroke="#151515" stroke-width="0.20" textLength="90" lengthAdjust="spacingAndGlyphs">High Cadence Empirical Model Fit</text>
<text transform="translate(250.60 112.85) scale(1.000 1)" font-size="6.80" text-anchor="start" fill="#151515" stroke="#151515" stroke-width="0.20" textLength="96.8" lengthAdjust="spacingAndGlyphs">Current Cadence Empirical Model Fit</text>
<text transform="translate(250.60 121.95) scale(1.000 1)" font-size="6.80" text-anchor="start" fill="#151515" stroke="#151515" stroke-width="0.20" textLength="39.6" lengthAdjust="spacingAndGlyphs">+15 hrs, 36 min</text>
<line x1="234.4" x2="246.3" y1="232.00" y2="232.00" stroke="#9cc3e0" stroke-width="0.8"/>
<line x1="234.4" x2="246.3" y1="240.80" y2="240.80" stroke="#ffc896" stroke-width="0.8"/>
<line x1="240.4" x2="240.4" y1="247.00" y2="252.60" stroke="#0000ff" stroke-width="0.8"/>
<circle cx="240.4" cy="249.80" r="1.3" fill="#0000ff"/>
<text transform="translate(250.60 234.15) scale(1.000 1)" font-size="6.80" text-anchor="start" fill="#151515" stroke="#151515" stroke-width="0.20" textLength="90" lengthAdjust="spacingAndGlyphs">High Cadence Empirical Model Fit</text>
<text transform="translate(250.60 242.95) scale(1.000 1)" font-size="6.80" text-anchor="start" fill="#151515" stroke="#151515" stroke-width="0.20" textLength="96.8" lengthAdjust="spacingAndGlyphs">Current Cadence Empirical Model Fit</text>
<text transform="translate(250.60 251.95) scale(1.000 1)" font-size="6.80" text-anchor="start" fill="#151515" stroke="#151515" stroke-width="0.20" textLength="83.9" lengthAdjust="spacingAndGlyphs">+3 days, 8 hrs, 38 min, 24.000 sec</text>
<line x1="234.4" x2="246.3" y1="362.30" y2="362.30" stroke="#9cc3e0" stroke-width="0.8"/>
<line x1="234.4" x2="246.3" y1="371.00" y2="371.00" stroke="#ffc896" stroke-width="0.8"/>
<line x1="240.4" x2="240.4" y1="377.20" y2="382.80" stroke="#008000" stroke-width="0.8"/>
<circle cx="240.4" cy="380.00" r="1.3" fill="#008000"/>
<text transform="translate(250.60 364.45) scale(1.000 1)" font-size="6.80" text-anchor="start" fill="#151515" stroke="#151515" stroke-width="0.20" textLength="90" lengthAdjust="spacingAndGlyphs">High Cadence Empirical Model Fit</text>
<text transform="translate(250.60 373.15) scale(1.000 1)" font-size="6.80" text-anchor="start" fill="#151515" stroke="#151515" stroke-width="0.20" textLength="96.8" lengthAdjust="spacingAndGlyphs">Current Cadence Empirical Model Fit</text>
<text transform="translate(250.60 382.15) scale(1.000 1)" font-size="6.80" text-anchor="start" fill="#151515" stroke="#151515" stroke-width="0.20" textLength="87.2" lengthAdjust="spacingAndGlyphs">+6 days, 20 hrs, 38 min, 24.000 sec</text>
<line x1="623" x2="633.5" y1="112.50" y2="112.50" stroke="#9cc3e0" stroke-width="0.8"/>
<line x1="628.3" x2="628.3" y1="117.90" y2="123.10" stroke="#ff7878" stroke-width="0.6"/>
<circle cx="628.3" cy="120.50" r="1.3" fill="#ff0000"/>
<text transform="translate(637.60 114.40) scale(1.000 1)" font-size="6.00" text-anchor="start" fill="#151515" stroke="#151515" stroke-width="0.10" textLength="70.1" lengthAdjust="spacingAndGlyphs">Current Cadence Error EM Fit</text>
<text transform="translate(637.60 122.40) scale(1.000 1)" font-size="6.00" text-anchor="start" fill="#151515" stroke="#151515" stroke-width="0.10" textLength="70.1" lengthAdjust="spacingAndGlyphs">+15 hrs, 36 min post explosion</text>
<line x1="623" x2="633.5" y1="242.50" y2="242.50" stroke="#9cc3e0" stroke-width="0.8"/>
<line x1="628.3" x2="628.3" y1="247.90" y2="253.10" stroke="#7878ff" stroke-width="0.6"/>
<circle cx="628.3" cy="250.50" r="1.3" fill="#0000ff"/>
<text transform="translate(637.60 244.40) scale(1.000 1)" font-size="6.00" text-anchor="start" fill="#151515" stroke="#151515" stroke-width="0.10" textLength="70.1" lengthAdjust="spacingAndGlyphs">Current Cadence Error EM Fit</text>
<text transform="translate(637.60 252.40) scale(1.000 1)" font-size="6.00" text-anchor="start" fill="#151515" stroke="#151515" stroke-width="0.10" textLength="110.6" lengthAdjust="spacingAndGlyphs">+3 days, 8 hrs, 38 min, 24.000 sec post explosion</text>
<line x1="623" x2="633.5" y1="375.40" y2="375.40" stroke="#9cc3e0" stroke-width="0.8"/>
<line x1="628.3" x2="628.3" y1="380.60" y2="385.80" stroke="#78b878" stroke-width="0.6"/>
<circle cx="628.3" cy="383.20" r="1.3" fill="#008000"/>
<text transform="translate(637.60 377.30) scale(1.000 1)" font-size="6.00" text-anchor="start" fill="#151515" stroke="#151515" stroke-width="0.10" textLength="70.1" lengthAdjust="spacingAndGlyphs">Current Cadence Error EM Fit</text>
<text transform="translate(637.60 385.10) scale(1.000 1)" font-size="6.00" text-anchor="start" fill="#151515" stroke="#151515" stroke-width="0.10" textLength="113.1" lengthAdjust="spacingAndGlyphs">+6 days, 20 hrs, 38 min, 24.000 sec post explosion</text>
</svg>
</body></html>
